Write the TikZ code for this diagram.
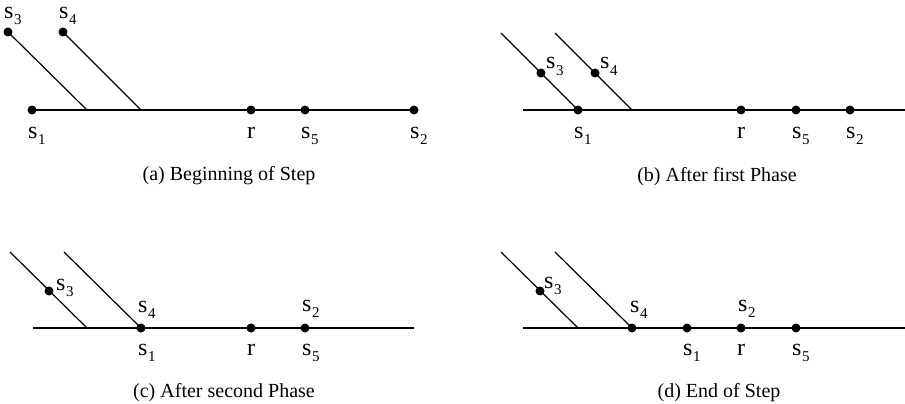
\documentclass[tikz,border=0pt]{standalone}
\usepackage{fontspec}
\setmainfont{Liberation Serif}
\newcommand{\slab}[1]{s\kern0.5pt\raisebox{-6pt}{\fontsize{15}{15}\selectfont #1}}
\tikzset{
  dotnode/.style={circle,fill=black,inner sep=0pt,minimum size=9pt},
  lab/.style={anchor=base west,inner sep=0pt,font=\fontsize{24}{28}\selectfont},
  rlab/.style={anchor=base,inner sep=0pt,font=\fontsize{24}{28}\selectfont},
  captext/.style={anchor=base,inner sep=0pt,font=\fontsize{20}{24}\selectfont},
  ln/.style={line width=1.2pt}
}
\begin{document}
\begin{tikzpicture}[x=1pt,y=-1pt]
\useasboundingbox (0,0) rectangle (905,404);
% ---------- (a)
\coordinate (aL) at (32,110); \coordinate (aR) at (414,110);
\coordinate (ja3) at (87,110); \coordinate (ja4) at (141,110);
\draw[ln] (aL) -- (aR);
\node[dotnode] (a3) at (8,32) {}; \node[dotnode] (a4) at (63,32) {};
\draw[ln] (a3.center) -- (ja3); \draw[ln] (a4.center) -- (ja4);
\node[dotnode] (a1) at (32,110) {}; \node[dotnode] (ar) at (251,110) {};
\node[dotnode] (a5) at (305,110) {}; \node[dotnode] (a2) at (414,110) {};
\node[lab] (la3) at (4,19) {\slab{3}}; \node[lab] (la4) at (59,19) {\slab{4}};
\node[lab] (la1) at (28,138.5) {\slab{1}}; \node[rlab] (lar) at (251,138.5) {r};
\node[lab] (la5) at (301,138.5) {\slab{5}}; \node[lab] (la2) at (410,138.5) {\slab{2}};
\node[captext] (capa) at (229,180) {(a) Beginning of Step};
% ---------- (b)
\coordinate (bL) at (523,110); \coordinate (bR) at (905,110);
\coordinate (tb3) at (501,33); \coordinate (tb4) at (555,33); \coordinate (jb4) at (632,110);
\draw[ln] (bL) -- (bR);
\node[dotnode] (b1) at (578,110) {}; \node[dotnode] (br) at (741,110) {};
\node[dotnode] (b5) at (796,110) {}; \node[dotnode] (b2) at (850,110) {};
\node[dotnode] (b3) at (541,73) {}; \node[dotnode] (b4) at (595,73) {};
\draw[ln] (tb3) -- (b1.center); \draw[ln] (tb4) -- (jb4);
\node[lab] (lb3) at (546,69) {\slab{3}}; \node[lab] (lb4) at (600,69) {\slab{4}};
\node[lab] (lb1) at (574,138.5) {\slab{1}}; \node[rlab] (lbr) at (741,138.5) {r};
\node[lab] (lb5) at (792,138.5) {\slab{5}}; \node[lab] (lb2) at (846,138.5) {\slab{2}};
\node[captext] (capb) at (717,181) {(b) After first Phase};
% ---------- (c)
\coordinate (cL) at (33,328); \coordinate (cR) at (414,328);
\coordinate (tc3) at (10,252); \coordinate (jc3) at (87,328); \coordinate (tc4) at (64,252);
\draw[ln] (cL) -- (cR);
\node[dotnode] (c41) at (141,328) {}; \node[dotnode] (cr) at (251,328) {};
\node[dotnode] (c25) at (305,328) {}; \node[dotnode] (c3) at (49,291) {};
\draw[ln] (tc3) -- (jc3); \draw[ln] (tc4) -- (c41.center);
\node[lab] (lc3) at (56,290) {\slab{3}};
\node[lab] (lc4) at (138,312) {\slab{4}}; \node[lab] (lc1) at (138,355.5) {\slab{1}};
\node[rlab] (lcr) at (251,355.5) {r};
\node[lab] (lc2) at (302,311) {\slab{2}}; \node[lab] (lc5) at (302,355.5) {\slab{5}};
\node[captext] (capc) at (224,397) {(c) After second Phase};
% ---------- (d)
\coordinate (dL) at (523,328); \coordinate (dR) at (905,328);
\coordinate (td3) at (501,252); \coordinate (jd3) at (578,328); \coordinate (td4) at (555,252);
\draw[ln] (dL) -- (dR);
\node[dotnode] (d4) at (632,328) {}; \node[dotnode] (d1) at (687,328) {};
\node[dotnode] (d2) at (741,328) {}; \node[dotnode] (d5) at (796,328) {};
\node[dotnode] (d3) at (540,291) {};
\draw[ln] (td3) -- (jd3); \draw[ln] (td4) -- (d4.center);
\node[lab] (ld3) at (544,288) {\slab{3}};
\node[lab] (ld4) at (630,312) {\slab{4}}; \node[lab] (ld1) at (683,355.5) {\slab{1}};
\node[rlab] (ldr) at (741,355.5) {r};
\node[lab] (ld2) at (738,311) {\slab{2}}; \node[lab] (ld5) at (792,355.5) {\slab{5}};
\node[captext] (capd) at (719,397) {(d) End of Step};
\end{tikzpicture}
\end{document}
